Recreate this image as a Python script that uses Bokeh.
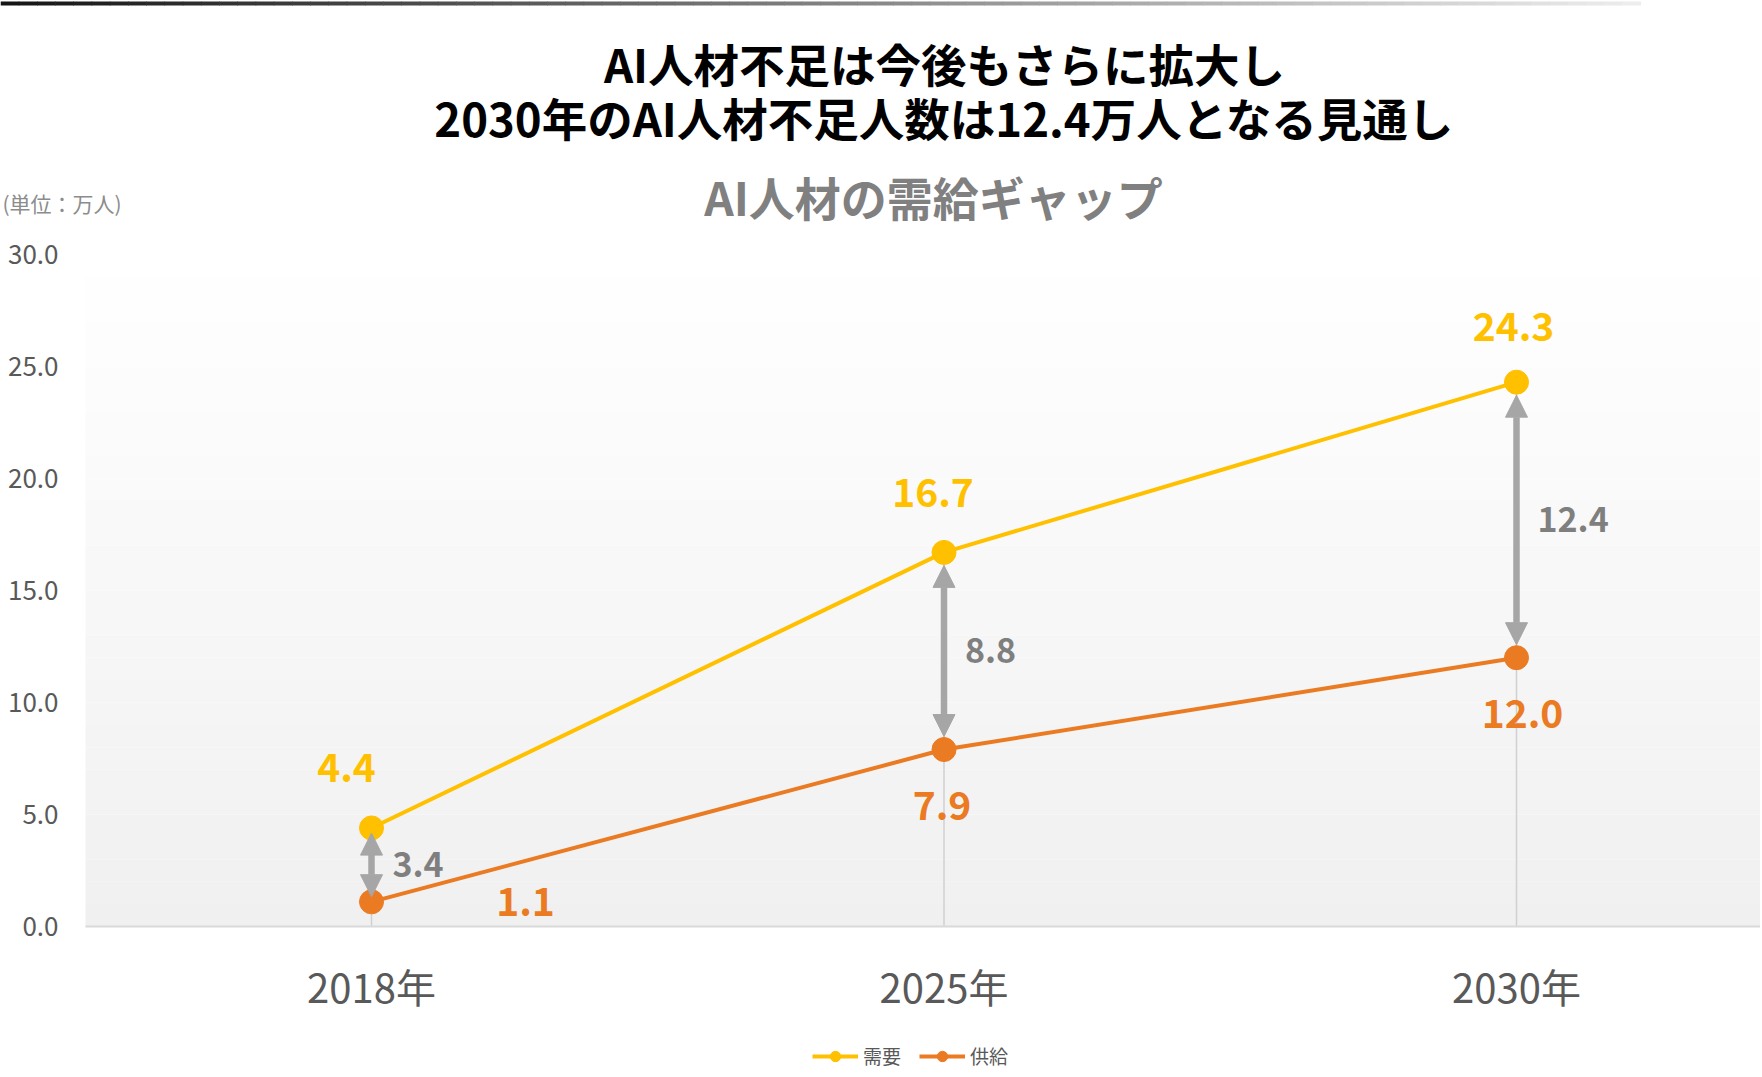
from bokeh.plotting import figure
from bokeh.models import (ColumnDataSource, Range1d, FixedTicker, PrintfTickFormatter,
                          BoxAnnotation, Arrow, NormalHead, Legend, LegendItem)
from bokeh.core.properties import value
from bokeh.embed import file_html
from bokeh.resources import INLINE

# ---------------- data ----------------
years = ["2018年", "2025年", "2030年"]
demand = [4.4, 16.7, 24.3]      # 需要
supply = [1.1, 7.9, 12.0]       # 供給
gap = [3.4, 8.8, 12.4]          # 不足人数
y_ticks = [0, 5, 10, 15, 20, 25, 30]

title_lines = ["AI人材不足は今後もさらに拡大し",
               "2030年のAI人材不足人数は12.4万人となる見通し"]
subtitle = "AI人材の需給ギャップ"
unit_label = "(単位：万人)"
series_names = ["需要", "供給"]

# ---------------- style / layout ----------------
FONT = "Noto Sans CJK JP"
YELLOW = "#FFC000"
ORANGE = "#EA7B23"
ARROW_GRAY = "#A6A6A6"
TEXT_GRAY = "#595959"
LABEL_GRAY = "#7F7F7F"

W, H = 1760, 1075
AXIS_LEFT_PX = 85        # left edge of the plotting area
ZERO_PX = 926            # pixel row of y = 0
CAT_PX = 572.5           # pixel width of one category slot
FIRST_CAT_PX = 371       # pixel column of first category centre
Y_MAX = 30
PX_PER_Y = (ZERO_PX - 254) / Y_MAX


def fx(px):   # pixel column -> data x
    return 0.5 + (px - FIRST_CAT_PX) / CAT_PX


def fy(py):   # pixel row (from top) -> data y
    return (ZERO_PX - py) / PX_PER_Y


# label offsets (screen px) - styling only
demand_dx = [-25, -11, -3]
demand_dy = [-60, -60, -56]
supply_dx = [154, -2, 6]
supply_dy = [0, 56, 56]

xs = [i + 0.5 for i in range(len(years))]
X0 = fx(AXIS_LEFT_PX)

p = figure(width=W, height=H, x_range=Range1d(fx(0), fx(W)), y_range=Range1d(fy(H), fy(0)),
           min_border=0, min_border_left=0, min_border_right=0,
           min_border_top=0, min_border_bottom=0,
           output_backend="svg", toolbar_location=None)
p.outline_line_color = None
p.grid.visible = False
p.background_fill_color = "white"
p.border_fill_color = "white"

# plot-area vertical gradient (white at top -> light gray at bottom)
n_bands = 30
for i in range(n_bands):
    g = round(240 + 15 * (i + 0.5) / n_bands)
    p.add_layout(BoxAnnotation(left=X0, bottom=Y_MAX * i / n_bands, top=Y_MAX * (i + 1) / n_bands,
                               fill_color=(g, g, g), fill_alpha=1.0,
                               line_color=None, level="underlay"))

# top decorative gradient bar
n_seg = 90
bar_len = 1640
seg_l = [fx(bar_len * i / n_seg) for i in range(n_seg)]
seg_r = [fx(bar_len * (i + 1) / n_seg + 0.6) for i in range(n_seg)]
seg_c = []
for i in range(n_seg):
    t = (i + 0.5) / n_seg
    g = round(20 + (238 - 20) * t)
    seg_c.append("#%02x%02x%02x" % (g, g, g))
p.quad(left=seg_l, right=seg_r, top=[fy(1)] * n_seg, bottom=[fy(5)] * n_seg,
       fill_color=seg_c, line_color=None)

# titles
p.text(x=[fx(944), fx(944)], y=[fy(62), fy(116)], text=title_lines, text_color="black",
       text_font=value(FONT), text_font_size="45.5px", text_font_style="bold",
       text_align="center", text_baseline="middle")
p.text(x=[fx(933)], y=[fy(195)], text=[subtitle], text_color="#808080",
       text_font=value(FONT), text_font_size="46px", text_font_style="bold",
       text_align="center", text_baseline="middle")
p.text(x=[fx(2)], y=[fy(202)], text=[unit_label], text_color="#8C8C8C",
       text_font=value(FONT), text_font_size="21px",
       text_align="left", text_baseline="middle")

# axes (placed inside the full-size frame)
p.xaxis.fixed_location = 0
p.xaxis.bounds = (X0, fx(W))
p.xaxis.ticker = FixedTicker(ticks=xs)
p.xaxis.major_label_overrides = {x: y for x, y in zip(xs, years)}
p.xaxis.axis_line_color = "#D9D9D9"
p.xaxis.axis_line_width = 2
p.xaxis.major_tick_line_color = None
p.xaxis.major_tick_out = 0
p.xaxis.major_tick_in = 0
p.xaxis.minor_tick_line_color = None
p.xaxis.major_label_text_font = FONT
p.xaxis.major_label_text_font_size = "40px"
p.xaxis.major_label_text_color = TEXT_GRAY
p.xaxis.major_label_standoff = 30

p.yaxis.fixed_location = X0
p.yaxis.bounds = (0, Y_MAX)
p.yaxis.ticker = FixedTicker(ticks=y_ticks)
p.yaxis.formatter = PrintfTickFormatter(format="%.1f")
p.yaxis.axis_line_color = None
p.yaxis.major_tick_line_color = None
p.yaxis.major_tick_out = 0
p.yaxis.major_tick_in = 0
p.yaxis.minor_tick_line_color = None
p.yaxis.major_label_text_font = FONT
p.yaxis.major_label_text_font_size = "26px"
p.yaxis.major_label_text_color = TEXT_GRAY
p.yaxis.major_label_standoff = 27

src = ColumnDataSource(dict(
    x=xs, demand=demand, supply=supply,
    demand_txt=[f"{v:.1f}" for v in demand],
    supply_txt=[f"{v:.1f}" for v in supply],
    gap_txt=[f"{v:.1f}" for v in gap],
    mid=[(d + s) / 2 for d, s in zip(demand, supply)],
    d_dx=demand_dx, d_dy=demand_dy, s_dx=supply_dx, s_dy=supply_dy,
))

# drop lines
p.segment(x0="x", y0=0, x1="x", y1="demand", source=src,
          line_color="#D0D0D0", line_width=1.5)

# series
l1 = p.line("x", "demand", source=src, line_color=YELLOW, line_width=4)
l2 = p.line("x", "supply", source=src, line_color=ORANGE, line_width=4)
s1 = p.scatter("x", "demand", source=src, size=24, fill_color=YELLOW, line_color=YELLOW)
s2 = p.scatter("x", "supply", source=src, size=24, fill_color=ORANGE, line_color=ORANGE)

# gap arrows
tip_off = [min(13, 0.07 * (d - s) * PX_PER_Y) / PX_PER_Y for d, s in zip(demand, supply)]
arr_src = ColumnDataSource(dict(
    x=xs,
    y0=[d - o for d, o in zip(demand, tip_off)],
    y1=[s + o for s, o in zip(supply, tip_off)],
))
p.add_layout(Arrow(start=NormalHead(size=22, fill_color=ARROW_GRAY, line_color=ARROW_GRAY, line_width=1),
                   end=NormalHead(size=22, fill_color=ARROW_GRAY, line_color=ARROW_GRAY, line_width=1),
                   x_start="x", y_start="y0", x_end="x", y_end="y1", source=arr_src,
                   line_color=ARROW_GRAY, line_width=6.5))

# data labels
p.text("x", "demand", text="demand_txt", source=src, text_color=YELLOW,
       text_font=value(FONT), text_font_size="39px", text_font_style="bold",
       text_align="center", text_baseline="middle", x_offset="d_dx", y_offset="d_dy")
p.text("x", "supply", text="supply_txt", source=src, text_color=ORANGE,
       text_font=value(FONT), text_font_size="39px", text_font_style="bold",
       text_align="center", text_baseline="middle", x_offset="s_dx", y_offset="s_dy")
p.text("x", "mid", text="gap_txt", source=src, text_color=LABEL_GRAY,
       text_font=value(FONT), text_font_size="34px", text_font_style="bold",
       text_align="left", text_baseline="middle", x_offset=21)

# legend
legend = Legend(items=[LegendItem(label=series_names[0], renderers=[l1, s1]),
                       LegendItem(label=series_names[1], renderers=[l2, s2])],
                orientation="horizontal", location=(812, 6),
                label_text_font=FONT, label_text_font_size="19px", label_text_color=TEXT_GRAY,
                glyph_width=46, glyph_height=26, spacing=18, label_standoff=5,
                padding=0, margin=0, background_fill_alpha=0, border_line_alpha=0)
p.add_layout(legend)

open("out.html", "w").write(file_html(p, INLINE))
